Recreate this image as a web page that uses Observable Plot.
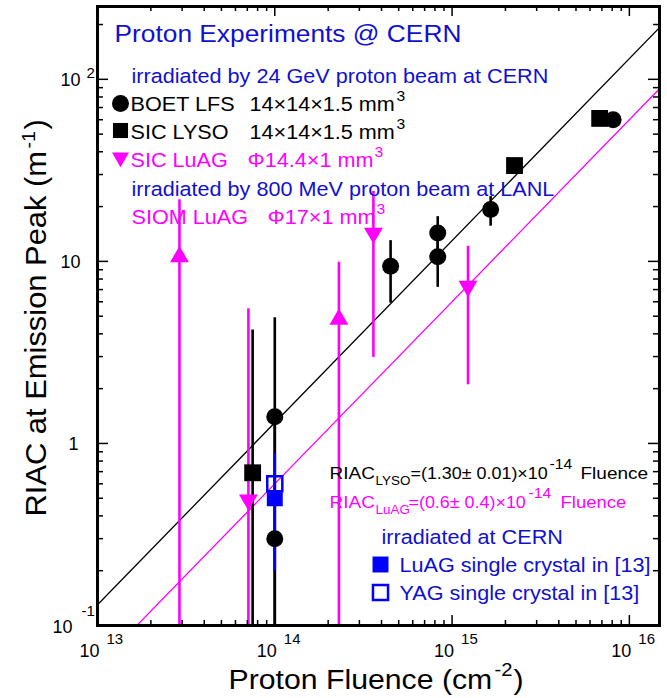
<!DOCTYPE html>
<html><head><meta charset="utf-8">
<script src="https://cdn.jsdelivr.net/npm/d3@7"></script>
<script src="https://cdn.jsdelivr.net/npm/@observablehq/plot@0.6"></script>
<style>body{margin:0;background:#fff}svg{display:block}</style>
</head><body><div id="chart"></div>
<script>
// ---------------- data ----------------
// BOET LFS 14x14x1.5 mm3, 24 GeV protons at CERN (filled circles)
const boetFluence = [1.0e14, 1.0e14, 4.5e14, 8.3e14, 8.3e14, 1.65e15, 8.1e15];
const boetRIAC    = [1.40, 0.30, 9.4, 14.3, 10.6, 19.3, 60];
const boetLow     = [0.05, 0.05, 5.9, 10.6, 7.2, 15.6, 60];
const boetHigh    = [4.9, 1.4, 13.0, 17.6, 14.3, 22.7, 60];
// SIC LYSO 14x14x1.5 mm3 (filled squares)
const lysoFluence = [7.5e13, 2.25e15, 6.8e15];
const lysoRIAC    = [0.69, 33.6, 61];
const lysoLow     = [0.05, 33.6, 61];
const lysoHigh    = [4.2, 33.6, 61];
// SIC LuAG phi14.4x1 mm3 (down triangles)
const sicLuagFluence = [7.1e13, 3.6e14, 1.23e15];
const sicLuagRIAC    = [0.49, 14.3, 7.3];
const sicLuagLow     = [0.05, 2.97, 2.1];
const sicLuagHigh    = [5.5, 24.2, 12.1];
// SIOM LuAG phi17x1 mm3, 800 MeV protons at LANL (up triangles)
const siomFluence = [2.9e13, 2.3e14];
const siomRIAC    = [10.6, 4.8];
const siomLow     = [0.05, 0.05];
const siomHigh    = [21.8, 9.9];
// single crystals in [13], irradiated at CERN
const luagRefFluence = [1e14];
const luagRefRIAC    = [0.50];
const luagRefLow     = [0.20];
const luagRefHigh    = [0.88];
const yagRefFluence  = [1e14];
const yagRefRIAC     = [0.60];
// fits: RIAC = slope x Fluence
const lysoSlope = 1.30e-14;
const luagSlope = 0.6e-14;
// axes
const xDomain = [1e13, 10 ** 16.17];
const yDomain = [0.1, 10 ** 2.4];
const xMajorTicks = [1e13, 1e14, 1e15, 1e16];
const yMajorTicks = [0.1, 1, 10, 100];

// ---------------- layout ----------------
const W = 667, H = 698;
const mL = 97, mR = 8, mT = 6, mB = 73;
const innerW = W - mL - mR, innerH = H - mT - mB;
const BLACK = "#000", MAG = "#f0f", BLUE_T = "#1010d0", BLUE = "#0000ff";
const FONT = "'Liberation Sans', Arial, Helvetica, sans-serif";

const xMinorTicks = [], yMinorTicks = [];
for (const d of xMajorTicks) for (let k = 2; k <= 9; k++) if (d * k <= xDomain[1]) xMinorTicks.push(d * k);
for (const d of yMajorTicks) for (let k = 2; k <= 9; k++) if (d * k <= yDomain[1]) yMinorTicks.push(d * k);

function note(str, x, y, o = {}) {
  const {sx = 1.12, ...rest} = o;
  return Plot.text([str], {text: d => d, frameAnchor: "top-left", dx: x - mL, dy: y - mT,
    textAnchor: "start", lineAnchor: "bottom", fontSize: 19.3, fill: BLACK,
    ariaDescription: "sx:" + sx, ...rest});
}
function key(x, y, o) {
  return Plot.dot([0], {frameAnchor: "top-left", dx: x - mL, dy: y - mT, ...o});
}
const err = (xs, lo, hi, color) => Plot.ruleX(xs, {x: xs, y1: lo, y2: hi, stroke: color, strokeWidth: 2.6, clip: true});

const chart = Plot.plot({
  width: W, height: H,
  marginLeft: mL, marginRight: mR, marginTop: mT, marginBottom: mB,
  style: {fontFamily: FONT, background: "#fff"},
  x: {type: "log", domain: xDomain, axis: null},
  y: {type: "log", domain: yDomain, axis: null},
  marks: [
    // fit lines
    Plot.line(xDomain, {x: d => d, y: d => lysoSlope * d, stroke: BLACK, strokeWidth: 1.3, clip: true}),
    Plot.line(xDomain, {x: d => d, y: d => luagSlope * d, stroke: MAG, strokeWidth: 1.3, clip: true}),
    // error bars
    err(siomFluence, siomLow, siomHigh, MAG),
    err(sicLuagFluence, sicLuagLow, sicLuagHigh, MAG),
    err(lysoFluence, lysoLow, lysoHigh, BLACK),
    err(boetFluence, boetLow, boetHigh, BLACK),
    err(luagRefFluence, luagRefLow, luagRefHigh, BLUE),
    // markers
    Plot.dot(siomFluence, {x: siomFluence, y: siomRIAC, symbol: "triangle", r: 7, fill: MAG, stroke: null}),
    Plot.dot(sicLuagFluence, {x: sicLuagFluence, y: sicLuagRIAC, symbol: "triangle", rotate: 180, r: 7, fill: MAG, stroke: null}),
    Plot.dot(lysoFluence, {x: lysoFluence, y: lysoRIAC, symbol: "square", r: 9.5, fill: BLACK, stroke: null}),
    Plot.dot(boetFluence, {x: boetFluence, y: boetRIAC, symbol: "circle", r: 8.5, fill: BLACK, stroke: null}),
    Plot.dot(luagRefFluence, {x: luagRefFluence, y: luagRefRIAC, symbol: "square", r: 9, fill: BLUE, stroke: null}),
    Plot.dot(yagRefFluence, {x: yagRefFluence, y: yagRefRIAC, symbol: "square", r: 8.5, fill: "none", stroke: BLUE, strokeWidth: 2.5}),
    // frame and inward ticks on all four sides
    Plot.frame({stroke: BLACK, strokeWidth: 3}),
    Plot.ruleX(xMajorTicks, {insetTop: innerH - 10, strokeWidth: 1.5}),
    Plot.ruleX(xMinorTicks, {insetTop: innerH - 5, strokeWidth: 1.5}),
    Plot.ruleX(xMajorTicks, {insetBottom: innerH - 10, strokeWidth: 1.5}),
    Plot.ruleX(xMinorTicks, {insetBottom: innerH - 5, strokeWidth: 1.5}),
    Plot.ruleY(yMajorTicks, {insetRight: innerW - 11, strokeWidth: 1.5}),
    Plot.ruleY(yMinorTicks, {insetRight: innerW - 6, strokeWidth: 1.5}),
    Plot.ruleY(yMajorTicks, {insetLeft: innerW - 11, strokeWidth: 1.5}),
    Plot.ruleY(yMinorTicks, {insetLeft: innerW - 6, strokeWidth: 1.5}),
    // x tick labels 10^n
    Plot.text(xMajorTicks, {x: d => d, frameAnchor: "bottom", text: () => "10", textAnchor: "end",
      lineAnchor: "bottom", dx: 2, dy: 31, fontSize: 18, fill: BLACK}),
    Plot.text(xMajorTicks, {x: d => d, frameAnchor: "bottom", text: d => String(Math.round(Math.log10(d))),
      textAnchor: "start", lineAnchor: "bottom", dx: 9, dy: 18, fontSize: 15, fill: BLACK}),
    // y tick labels
    Plot.text(yMajorTicks.filter(d => d >= 10), {y: d => d, frameAnchor: "left", text: () => "10", textAnchor: "end",
      lineAnchor: "bottom", dx: -17, dy: 7, fontSize: 18, fill: BLACK}),
    Plot.text(yMajorTicks.filter(d => d === 1), {y: d => d, frameAnchor: "left", text: () => "1", textAnchor: "end",
      lineAnchor: "bottom", dx: -19, dy: 7, fontSize: 18, fill: BLACK}),
    Plot.text(yMajorTicks.filter(d => d < 1), {y: d => d, frameAnchor: "left", text: () => "10", textAnchor: "end",
      lineAnchor: "bottom", dx: -25, dy: 7, fontSize: 18, fill: BLACK}),
    Plot.text(yMajorTicks.filter(d => d > 10), {y: d => d, frameAnchor: "left", text: d => String(Math.round(Math.log10(d))),
      textAnchor: "start", lineAnchor: "bottom", dx: -11, dy: -1, fontSize: 15, fill: BLACK}),
    Plot.text(yMajorTicks.filter(d => d < 1), {y: d => d, frameAnchor: "left", text: d => String(Math.round(Math.log10(d))),
      textAnchor: "start", lineAnchor: "bottom", dx: -16, dy: -10, fontSize: 15, fill: BLACK}),
    // axis titles
    note("Proton Fluence (cm", 228, 688, {fontSize: 27}),
    note("-2", 494, 675, {fontSize: 18}),
    note(")", 513, 688, {fontSize: 27}),
    note("RIAC at Emission Peak (m", 45, 516, {fontSize: 30, rotate: -90, sx: 1.03}),
    note("-1", 34, 148, {fontSize: 19, rotate: -90, sx: 1.03}),
    note(")", 45, 129, {fontSize: 30, rotate: -90, sx: 1.03}),
    // top-left legend
    note("Proton Experiments @ CERN", 114, 41, {fontSize: 23.5, fill: BLUE_T}),
    note("irradiated by 24 GeV proton beam at CERN", 131, 82, {fill: BLUE_T}),
    key(120, 103, {symbol: "circle", r: 8.5, fill: BLACK, stroke: null}),
    note("BOET LFS", 130, 110),
    note("14×14×1.5 mm", 249, 110),
    note("3", 396, 100, {fontSize: 14}),
    key(120, 130, {symbol: "square", r: 8.5, fill: BLACK, stroke: null}),
    note("SIC LYSO", 130, 138),
    note("14×14×1.5 mm", 249, 138),
    note("3", 396, 128, {fontSize: 14}),
    key(120, 157, {symbol: "triangle", rotate: 180, r: 6.3, fill: MAG, stroke: null}),
    note("SIC LuAG", 130, 166, {fill: MAG}),
    note("Φ14.4×1 mm", 247, 166, {fill: MAG}),
    note("3", 374, 156, {fontSize: 14, fill: MAG}),
    note("irradiated by 800 MeV proton beam at LANL", 131, 195, {fill: BLUE_T}),
    note("SIOM LuAG", 131, 223, {fill: MAG}),
    note("Φ17×1 mm", 267, 223, {fill: MAG}),
    note("3", 376, 213, {fontSize: 14, fill: MAG}),
    // bottom-right fit formulas and legend
    note("RIAC", 329, 478, {fontSize: 17}),
    note("LYSO", 375, 484, {fontSize: 12}),
    note("=(1.30± 0.01)×10", 410, 478, {fontSize: 16}),
    note("-14", 549, 468, {fontSize: 14}),
    note("Fluence", 580, 478, {fontSize: 17}),
    note("RIAC", 329, 507, {fontSize: 17, fill: MAG}),
    note("LuAG", 375, 513, {fontSize: 12, fill: MAG}),
    note("=(0.6± 0.4)×10", 408, 507, {fontSize: 16, fill: MAG}),
    note("-14", 528, 497, {fontSize: 14, fill: MAG}),
    note("Fluence", 560, 507, {fontSize: 16.5, fill: MAG}),
    note("irradiated at CERN", 381, 543, {fill: BLUE_T}),
    key(380, 564, {symbol: "square", r: 9, fill: BLUE, stroke: null}),
    note("LuAG single crystal in [13]", 399, 571, {fill: BLUE_T}),
    key(380, 592, {symbol: "square", r: 8.5, fill: "none", stroke: BLUE, strokeWidth: 2.5}),
    note("YAG single crystal in [13]", 399, 599, {fill: BLUE_T})
  ]
});

// horizontal stretch of annotation text (the reference font is wider than Arial)
chart.querySelectorAll('g[aria-description^="sx:"]').forEach(g => {
  const sx = g.getAttribute("aria-description").slice(3);
  g.querySelectorAll("text").forEach(t => {
    const tr = t.getAttribute("transform");
    if (tr && tr.includes("translate")) t.setAttribute("transform", tr + ` scale(${sx},1)`);
  });
});
document.getElementById("chart").appendChild(chart);
</script>
</body></html>
